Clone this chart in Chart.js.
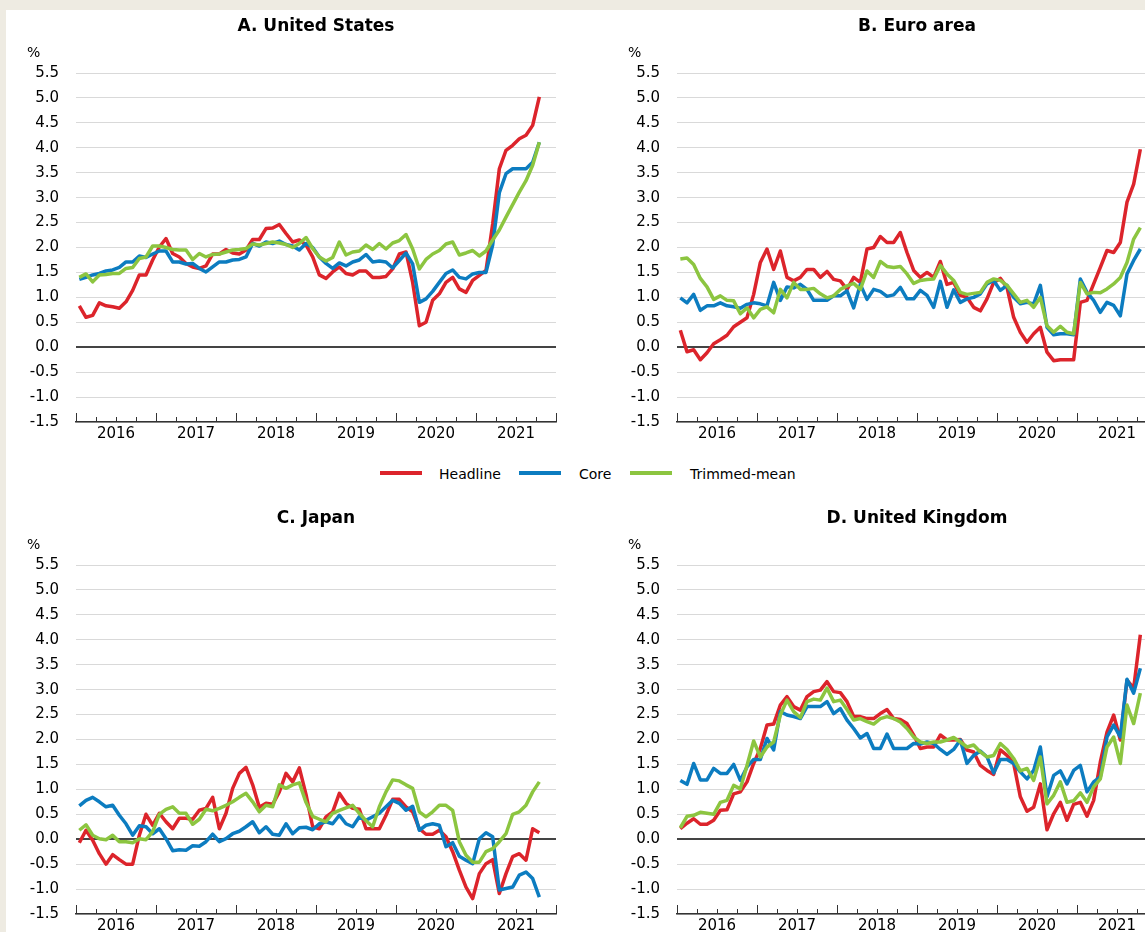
<!DOCTYPE html>
<html>
<head>
<meta charset="utf-8">
<script src="https://cdn.jsdelivr.net/npm/chart.js@4.4.1/dist/chart.umd.min.js"></script>
<style>
html,body{margin:0;padding:0;}
body{width:1145px;height:932px;overflow:hidden;background:#eeebe2;position:relative;font-family:"DejaVu Sans",sans-serif;color:#000;}
#sheet{position:absolute;left:6px;top:10px;width:1300px;height:1100px;background:#fff;}
.panel{position:absolute;width:576px;height:460px;}
.panel canvas{position:absolute;left:0;top:0;}
.title{position:absolute;left:76px;width:480px;top:15px;text-align:center;font-weight:bold;font-size:17px;line-height:20px;white-space:nowrap;}
.pct{position:absolute;left:27px;top:44px;font-size:14px;line-height:16px;}
.sw{position:absolute;height:4px;top:471px;}
.lt{position:absolute;top:466px;font-size:14px;line-height:16px;white-space:nowrap;}
</style>
</head>
<body>
<div id="sheet"></div>
<div class="panel" style="left:0;top:0"><canvas id="cUS" width="576" height="460"></canvas><div class="title">A. United States</div><div class="pct">%</div></div>
<div class="panel" style="left:601px;top:0"><canvas id="cEU" width="576" height="460"></canvas><div class="title">B. Euro area</div><div class="pct">%</div></div>
<div class="panel" style="left:0;top:492px"><canvas id="cJP" width="576" height="460"></canvas><div class="title">C. Japan</div><div class="pct">%</div></div>
<div class="panel" style="left:601px;top:492px"><canvas id="cUK" width="576" height="460"></canvas><div class="title">D. United Kingdom</div><div class="pct">%</div></div>
<div id="legend"></div>
<script>
// ---- data: monthly, Jan 2016 .. Oct 2021 ----
const years = ['2016','2017','2018','2019','2020','2021'];
const seriesNames = ['Headline','Core','Trimmed-mean'];

const usHeadline = [
 0.83,0.60,0.64,0.89,0.83,0.81,0.78,0.91,1.14,1.45,1.45,1.75,
 2.01,2.18,1.88,1.81,1.68,1.61,1.58,1.63,1.87,1.87,1.96,1.89,
 1.87,1.95,2.16,2.16,2.38,2.39,2.46,2.28,2.11,2.15,2.05,1.81,
 1.45,1.38,1.51,1.61,1.48,1.45,1.53,1.53,1.40,1.40,1.42,1.57,
 1.87,1.91,1.30,0.43,0.50,0.94,1.07,1.30,1.40,1.17,1.10,1.34,
 1.44,1.54,2.47,3.58,3.95,4.05,4.18,4.25,4.45,5.02];
const usCore = [
 1.36,1.40,1.45,1.48,1.53,1.55,1.60,1.71,1.71,1.83,1.80,1.87,
 1.93,1.93,1.71,1.71,1.67,1.68,1.58,1.51,1.61,1.71,1.71,1.75,
 1.76,1.81,2.08,2.03,2.11,2.08,2.13,2.06,2.03,1.95,2.08,2.00,
 1.81,1.68,1.58,1.69,1.63,1.71,1.75,1.86,1.71,1.73,1.71,1.59,
 1.74,1.89,1.67,0.90,0.97,1.12,1.30,1.48,1.55,1.40,1.37,1.47,
 1.50,1.50,2.05,3.10,3.48,3.58,3.58,3.58,3.71,4.11];
const usTrimmed = [
 1.40,1.47,1.31,1.45,1.46,1.48,1.48,1.58,1.60,1.78,1.81,2.03,
 2.03,2.00,1.96,1.95,1.95,1.76,1.88,1.81,1.86,1.87,1.91,1.95,
 1.96,1.98,2.07,2.05,2.08,2.11,2.09,2.06,2.00,2.08,2.20,1.98,
 1.81,1.73,1.80,2.11,1.85,1.91,1.93,2.05,1.96,2.08,1.97,2.09,
 2.14,2.26,1.97,1.57,1.76,1.87,1.94,2.07,2.11,1.85,1.89,1.94,
 1.83,1.93,2.15,2.35,2.61,2.86,3.11,3.34,3.65,4.11];

const euHeadline = [
 0.34,-0.09,-0.05,-0.25,-0.11,0.07,0.15,0.24,0.41,0.50,0.59,1.06,
 1.70,1.97,1.56,1.93,1.40,1.33,1.40,1.56,1.56,1.40,1.52,1.36,
 1.33,1.16,1.40,1.30,1.97,2.00,2.22,2.10,2.10,2.30,1.90,1.54,
 1.40,1.50,1.40,1.72,1.26,1.30,1.04,1.00,0.80,0.73,0.97,1.30,
 1.38,1.20,0.60,0.30,0.10,0.27,0.40,-0.10,-0.27,-0.25,-0.25,-0.25,
 0.90,0.94,1.27,1.60,1.94,1.90,2.10,2.91,3.27,3.97];
const euCore = [
 0.99,0.89,1.06,0.74,0.83,0.83,0.89,0.83,0.81,0.78,0.86,0.89,
 0.87,0.83,1.30,0.94,1.21,1.19,1.26,1.16,0.94,0.94,0.94,1.03,
 1.03,1.13,0.79,1.26,0.96,1.16,1.12,1.02,1.05,1.20,0.97,0.97,
 1.14,1.04,0.80,1.32,0.80,1.15,0.90,0.97,1.00,1.07,1.27,1.34,
 1.14,1.24,1.00,0.87,0.90,0.87,1.24,0.40,0.25,0.27,0.27,0.25,
 1.37,1.10,0.94,0.70,0.90,0.84,0.63,1.47,1.74,1.97];
const euTrimmed = [
 1.77,1.79,1.66,1.38,1.21,0.96,1.03,0.94,0.93,0.67,0.79,0.59,
 0.76,0.81,0.69,1.16,0.99,1.30,1.16,1.16,1.18,1.07,0.99,1.03,
 1.16,1.23,1.28,1.16,1.53,1.40,1.72,1.62,1.60,1.62,1.47,1.28,
 1.34,1.36,1.37,1.64,1.47,1.34,1.10,1.06,1.08,1.10,1.30,1.37,
 1.34,1.24,1.07,0.90,0.94,0.80,1.00,0.43,0.30,0.42,0.30,0.27,
 1.30,1.07,1.10,1.09,1.17,1.27,1.40,1.70,2.17,2.40];

const jpHeadline = [
 -0.07,0.18,-0.02,-0.29,-0.50,-0.31,-0.41,-0.50,-0.50,0.08,0.50,0.28,
 0.52,0.35,0.21,0.42,0.42,0.40,0.58,0.62,0.84,0.21,0.52,1.02,
 1.32,1.44,1.09,0.64,0.72,0.70,0.95,1.32,1.15,1.43,0.90,0.25,
 0.21,0.45,0.55,0.92,0.72,0.62,0.60,0.21,0.21,0.21,0.48,0.80,
 0.80,0.65,0.55,0.21,0.10,0.10,0.18,0.05,-0.25,-0.62,-0.96,-1.19,
 -0.69,-0.49,-0.41,-1.09,-0.69,-0.35,-0.29,-0.42,0.21,0.13];
const jpCore = [
 0.67,0.78,0.84,0.75,0.65,0.68,0.48,0.31,0.08,0.27,0.25,0.11,
 0.21,0.01,-0.23,-0.21,-0.22,-0.13,-0.14,-0.05,0.10,-0.05,0.01,0.11,
 0.16,0.25,0.35,0.13,0.25,0.10,0.08,0.31,0.11,0.23,0.24,0.19,
 0.31,0.35,0.31,0.48,0.31,0.25,0.45,0.38,0.45,0.52,0.65,0.78,
 0.72,0.58,0.66,0.18,0.28,0.31,0.28,-0.15,-0.07,-0.34,-0.42,-0.49,
 0.01,0.13,0.05,-1.02,-0.99,-0.96,-0.72,-0.66,-0.79,-1.16];
const jpTrimmed = [
 0.18,0.29,0.08,0.01,-0.01,0.08,-0.05,-0.05,-0.07,0.01,-0.01,0.15,
 0.50,0.60,0.65,0.52,0.52,0.30,0.40,0.60,0.57,0.62,0.68,0.75,
 0.84,0.92,0.75,0.55,0.68,0.65,1.09,1.02,1.09,1.13,0.74,0.46,
 0.40,0.35,0.52,0.58,0.63,0.68,0.52,0.37,0.25,0.65,0.95,1.19,
 1.17,1.09,1.02,0.55,0.45,0.55,0.68,0.68,0.58,-0.05,-0.32,-0.46,
 -0.46,-0.25,-0.19,-0.05,0.11,0.50,0.55,0.68,0.95,1.15];

const ukHeadline = [
 0.21,0.32,0.41,0.30,0.30,0.38,0.58,0.59,0.91,0.95,1.15,1.52,
 1.82,2.29,2.31,2.69,2.86,2.66,2.59,2.86,2.96,2.99,3.16,2.96,
 2.94,2.76,2.46,2.46,2.42,2.42,2.52,2.60,2.42,2.40,2.32,2.09,
 1.82,1.85,1.85,2.09,1.99,1.99,2.00,1.79,1.75,1.48,1.38,1.30,
 1.79,1.68,1.52,0.85,0.56,0.64,1.11,0.19,0.51,0.74,0.38,0.70,
 0.74,0.46,0.78,1.55,2.15,2.49,1.99,3.19,3.03,4.10];
const ukCore = [
 1.18,1.10,1.52,1.19,1.19,1.42,1.32,1.32,1.50,1.18,1.45,1.60,
 1.60,2.02,1.79,2.56,2.49,2.46,2.42,2.66,2.66,2.66,2.76,2.52,
 2.62,2.39,2.22,2.03,2.12,1.82,1.82,2.11,1.82,1.82,1.82,1.92,
 1.91,1.95,1.92,1.80,1.70,1.80,1.99,1.52,1.68,1.77,1.65,1.33,
 1.60,1.60,1.52,1.35,1.21,1.38,1.85,0.85,1.28,1.37,1.11,1.38,
 1.48,0.95,1.15,1.25,2.05,2.29,2.05,3.21,2.93,3.43];
const ukTrimmed = [
 0.23,0.46,0.48,0.54,0.52,0.50,0.74,0.78,1.08,1.01,1.48,1.97,
 1.65,1.85,1.95,2.49,2.79,2.56,2.44,2.76,2.81,2.79,3.03,2.76,
 2.79,2.60,2.39,2.42,2.36,2.31,2.42,2.46,2.42,2.35,2.22,2.05,
 1.95,1.92,1.95,1.95,1.99,2.04,1.95,1.85,1.89,1.75,1.65,1.68,
 1.92,1.80,1.62,1.37,1.42,1.18,1.65,0.71,0.88,1.15,0.74,0.77,
 0.93,0.74,1.05,1.21,1.85,2.05,1.52,2.69,2.32,2.93];

// ---- styles ----
const COLORS = ['#dc242b', '#0c7cc0', '#8cc540'];
const FONT = "'DejaVu Sans', sans-serif";

// legend (HTML)
(function(){
  const lg = document.getElementById('legend');
  const sw = [380, 519, 630], tx = [439, 579, 690];
  seriesNames.forEach((n, k) => {
    const s = document.createElement('div');
    s.className = 'sw'; s.style.left = sw[k] + 'px'; s.style.width = '42px'; s.style.background = COLORS[k];
    lg.appendChild(s);
    const t = document.createElement('div');
    t.className = 'lt'; t.style.left = tx[k] + 'px'; t.textContent = n;
    lg.appendChild(t);
  });
})();

// quarter / year tick marks drawn upward from the x axis
const tickMarks = {
  id: 'tickMarks',
  afterDraw(chart) {
    const xs = chart.scales.x, ctx = chart.ctx, b = chart.chartArea.bottom;
    ctx.save();
    ctx.strokeStyle = '#333'; ctx.lineWidth = 1;
    for (let m = 0; m <= years.length * 12; m += 3) {
      const px = Math.round(xs.getPixelForValue(m)) + 0.5;
      const len = (m % 12 === 0) ? 9 : 5;
      ctx.beginPath(); ctx.moveTo(px, b); ctx.lineTo(px, b - len); ctx.stroke();
    }
    ctx.restore();
  }
};

function makeChart(id, series) {
  const datasets = series.map((arr, k) => ({
    label: seriesNames[k],
    data: arr.map((v, i) => ({x: i + 0.5, y: v})),
    borderColor: COLORS[k],
    backgroundColor: COLORS[k],
    borderWidth: 3.5,
    pointRadius: 0,
    tension: 0,
    fill: false,
    borderJoinStyle: 'round',
    order: 3 - k
  }));
  return new Chart(document.getElementById(id), {
    type: 'line',
    data: {datasets},
    plugins: [tickMarks],
    options: {
      responsive: false,
      animation: false,
      events: [],
      layout: {autoPadding: false, padding: {left: 0, right: 20, top: 73, bottom: 8}},
      plugins: {legend: {display: false}, tooltip: {enabled: false}, title: {display: false}},
      scales: {
        x: {
          type: 'linear', min: 0, max: years.length * 12,
          grid: {drawOnChartArea: false, drawTicks: false},
          border: {display: true, color: '#333', width: 1.5},
          ticks: {
            stepSize: 6, autoSkip: false, maxRotation: 0, padding: 3,
            color: '#000', font: {family: FONT, size: 15},
            callback: v => (v % 12 === 6) ? years[(v - 6) / 12] : ''
          },
          afterFit: s => { s.height = 30; }
        },
        y: {
          min: -1.5, max: 5.5,
          grid: {
            drawTicks: false,
            color: c => (c.tick && c.tick.value === 0) ? '#444' : '#d9d9d9',
            lineWidth: c => (c.tick && c.tick.value === 0) ? 2 : 1
          },
          border: {display: false},
          ticks: {
            stepSize: 0.5, padding: 17, color: '#000',
            font: {family: FONT, size: 15},
            callback: v => Number(v).toFixed(1)
          },
          afterFit: s => { s.width = 76; }
        }
      }
    }
  });
}

makeChart('cUS', [usHeadline, usCore, usTrimmed]);
makeChart('cEU', [euHeadline, euCore, euTrimmed]);
makeChart('cJP', [jpHeadline, jpCore, jpTrimmed]);
makeChart('cUK', [ukHeadline, ukCore, ukTrimmed]);
</script>
</body>
</html>
